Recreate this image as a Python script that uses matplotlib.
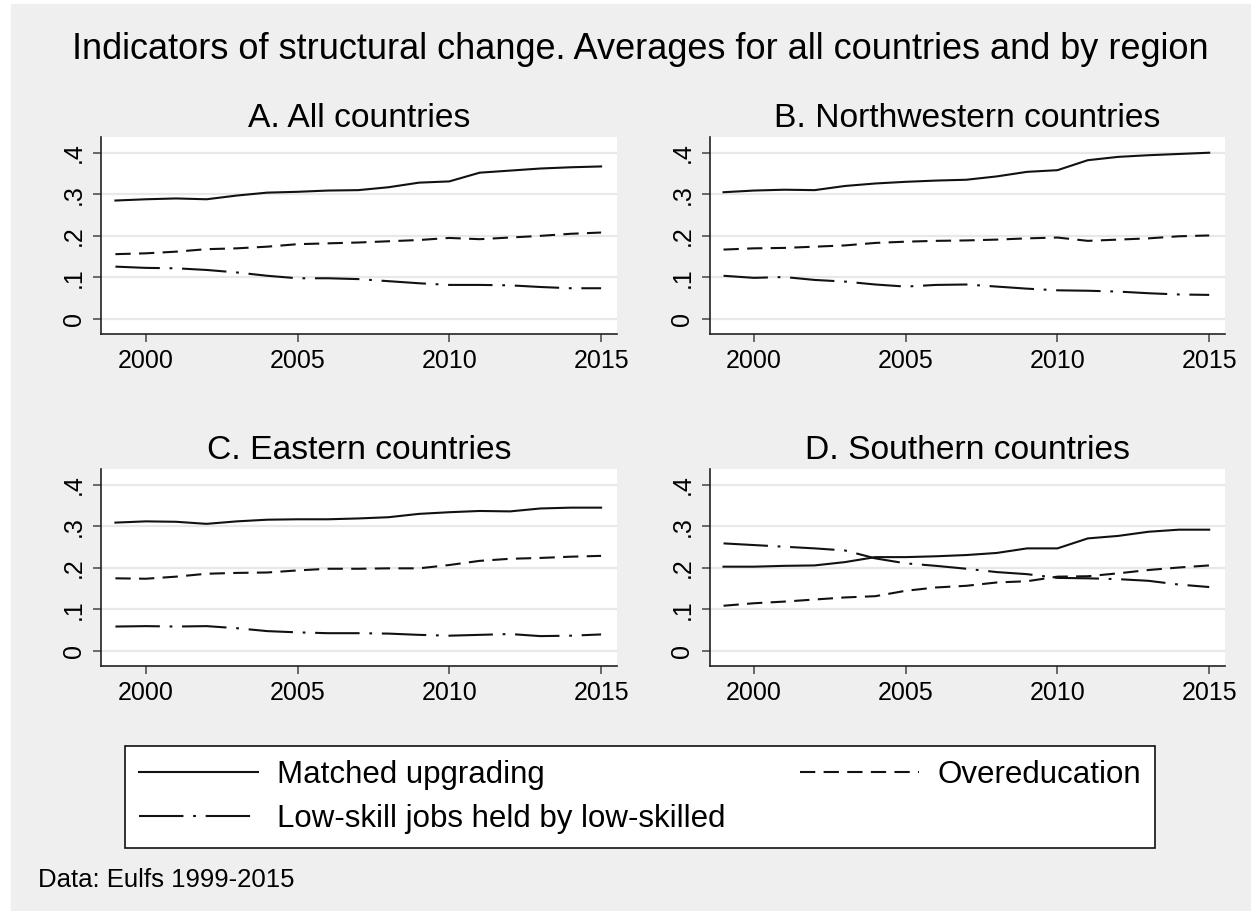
import matplotlib
matplotlib.use("Agg")
import matplotlib.pyplot as plt
from matplotlib.patches import Rectangle

plt.rcParams['font.family'] = ['Liberation Sans', 'DejaVu Sans']
plt.rcParams['lines.scale_dashes'] = False

years = list(range(1999, 2016))

panel_titles = ["A. All countries", "B. Northwestern countries",
                "C. Eastern countries", "D. Southern countries"]
series_labels = ["Matched upgrading", "Overeducation",
                 "Low-skill jobs held by low-skilled"]

# matched upgrading
upgrading_all = [0.285, 0.288, 0.290, 0.288, 0.297, 0.304, 0.306, 0.309, 0.310,
                 0.317, 0.328, 0.331, 0.352, 0.357, 0.362, 0.365, 0.367]
upgrading_nw = [0.305, 0.309, 0.311, 0.310, 0.320, 0.326, 0.330, 0.333, 0.335,
                0.343, 0.354, 0.358, 0.382, 0.390, 0.394, 0.397, 0.400]
upgrading_east = [0.309, 0.312, 0.311, 0.306, 0.312, 0.316, 0.317, 0.317, 0.319,
                  0.322, 0.330, 0.334, 0.337, 0.336, 0.343, 0.345, 0.345]
upgrading_south = [0.203, 0.203, 0.205, 0.206, 0.214, 0.226, 0.226, 0.228, 0.231,
                   0.236, 0.247, 0.247, 0.271, 0.277, 0.287, 0.292, 0.292]

# overeducation
overedu_all = [0.156, 0.158, 0.162, 0.168, 0.170, 0.174, 0.180, 0.182, 0.184,
               0.187, 0.190, 0.195, 0.192, 0.196, 0.200, 0.205, 0.208]
overedu_nw = [0.167, 0.170, 0.171, 0.174, 0.177, 0.183, 0.186, 0.188, 0.189,
              0.191, 0.194, 0.196, 0.188, 0.191, 0.194, 0.199, 0.201]
overedu_east = [0.175, 0.174, 0.179, 0.186, 0.188, 0.189, 0.194, 0.198, 0.198,
                0.199, 0.199, 0.207, 0.217, 0.222, 0.224, 0.227, 0.229]
overedu_south = [0.109, 0.115, 0.119, 0.124, 0.129, 0.132, 0.145, 0.153, 0.157,
                 0.165, 0.168, 0.179, 0.180, 0.187, 0.195, 0.201, 0.206]

# low-skill jobs held by low-skilled
lowskill_all = [0.126, 0.123, 0.122, 0.118, 0.112, 0.104, 0.098, 0.098, 0.096,
                0.091, 0.086, 0.082, 0.082, 0.081, 0.077, 0.074, 0.074]
lowskill_nw = [0.104, 0.099, 0.101, 0.094, 0.090, 0.083, 0.078, 0.082, 0.083,
               0.078, 0.073, 0.069, 0.068, 0.066, 0.062, 0.059, 0.058]
lowskill_east = [0.059, 0.060, 0.059, 0.060, 0.055, 0.048, 0.045, 0.043, 0.043,
                 0.042, 0.039, 0.037, 0.039, 0.041, 0.036, 0.037, 0.040]
lowskill_south = [0.259, 0.255, 0.251, 0.247, 0.242, 0.223, 0.211, 0.205, 0.198,
                  0.190, 0.185, 0.176, 0.175, 0.173, 0.169, 0.160, 0.154]

panels = [
    (upgrading_all, overedu_all, lowskill_all),
    (upgrading_nw, overedu_nw, lowskill_nw),
    (upgrading_east, overedu_east, lowskill_east),
    (upgrading_south, overedu_south, lowskill_south),
]

yticks = [0, 0.1, 0.2, 0.3, 0.4]
ytick_labels = ["0", ".1", ".2", ".3", ".4"]
xticks = [2000, 2005, 2010, 2015]

styles = [
    dict(linestyle='-'),
    dict(linestyle=(0, (11, 6))),
    dict(linestyle=(0, (32, 7, 2, 7))),
]

bg = '#efefef'
fig = plt.figure(figsize=(12.51, 9.11), dpi=100, facecolor='white')
fig.patches.append(Rectangle((11 / 1251, 0), 1, 1 - 4 / 911,
                             transform=fig.transFigure, color=bg, zorder=-10))

lefts = [0.0811, 0.5672]
bottoms = [0.6334, 0.2689]
w, h = 0.412, 0.2163

handles = []
for i, (title, data) in enumerate(zip(panel_titles, panels)):
    ax = fig.add_axes([lefts[i % 2], bottoms[i // 2], w, h])
    ax.set_facecolor('white')
    for vals, st, lab in zip(data, styles, series_labels):
        ln, = ax.plot(years, vals, color='#111111', lw=1.5, label=lab, **st)
        if i == 0:
            handles.append(ln)
    ax.set_xlim(1998.54, 2015.52)
    ax.set_ylim(-0.036, 0.438)
    ax.set_yticks(yticks)
    ax.set_yticklabels(ytick_labels)
    ax.set_xticks(xticks)
    ax.grid(axis='y', color='#e8e8e8', lw=1.6)
    ax.set_axisbelow(True)
    for s in ['top', 'right']:
        ax.spines[s].set_visible(False)
    for s in ['left', 'bottom']:
        ax.spines[s].set_linewidth(1.2)
        ax.spines[s].set_color('#222222')
    ax.tick_params(length=6, width=1.1, color='#444444', labelsize=18)
    ax.tick_params(axis='x', pad=5)
    ax.tick_params(axis='y', labelrotation=90, pad=5)
    for t in ax.get_yticklabels():
        t.set_va('center')
    ax.set_title(title, fontsize=24.2, pad=7)

fig.text(0.512, 1 - 59.3 / 911, "Indicators of structural change. Averages for all countries and by region",
         ha='center', va='baseline', fontsize=26)

leg = fig.legend([handles[0], handles[2], handles[1]],
                 [series_labels[0], series_labels[2], series_labels[1]],
                 ncol=2, loc='lower left', mode='expand', borderaxespad=0,
                 bbox_to_anchor=(125 / 1251, 1 - 848 / 911, 1030 / 1251, 101 / 911),
                 fontsize=22.5, handlelength=3.8, handletextpad=0.6,
                 labelspacing=0.45, borderpad=0.45, frameon=True, fancybox=False,
                 edgecolor='#111111', facecolor='white', framealpha=1)
leg.get_frame().set_linewidth(1.2)

fig.text(38 / 1251, 1 - 887 / 911, "Data: Eulfs 1999-2015", ha='left', va='baseline', fontsize=18.5)

fig.savefig("out.png", dpi=100, facecolor=fig.get_facecolor())
